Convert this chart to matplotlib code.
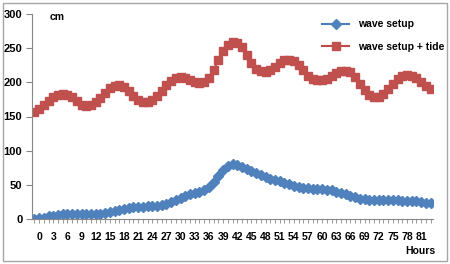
import matplotlib
matplotlib.use("Agg")
import matplotlib.pyplot as plt
from matplotlib.patches import Rectangle

hours = list(range(-1, 84))
label_hours = list(range(0, 82, 3))

wave_setup = [0, 1, 2, 4, 5, 6, 7, 8, 8, 8, 8, 8, 8, 8, 8, 9, 10, 12, 13, 15,
              16, 17, 18, 18, 19, 19, 19, 20, 22, 25, 28, 31, 34, 36, 38, 40, 42, 47, 54, 63,
              71, 77, 80, 79, 76, 73, 70, 67, 64, 62, 59, 57, 55, 53, 51, 49, 47, 46, 45, 44,
              44, 44, 43, 42, 40, 38, 36, 34, 32, 30, 29, 28, 28, 28, 28, 28, 28, 28, 27, 27,
              26, 26, 25, 24, 23]

wave_setup_tide = [156, 161, 167, 173, 178, 182, 183, 182, 178, 172, 167, 166, 167, 171, 177, 184, 191, 195, 196, 193,
                   187, 180, 174, 171, 171, 174, 180, 188, 196, 202, 206, 208, 207, 204, 201, 199, 200, 206, 218, 232,
                   246, 255, 259, 258, 252, 240, 228, 220, 216, 215, 218, 223, 228, 232, 233, 231, 226, 218, 210, 205,
                   203, 203, 205, 209, 213, 216, 217, 215, 208, 198, 189, 182, 179, 179, 183, 190, 198, 205, 209, 211,
                   210, 206, 200, 194, 190]

plt.rcParams['font.family'] = ['Liberation Sans', 'DejaVu Sans']
plt.rcParams['font.weight'] = 'bold'

W, H = 450, 264
fig = plt.figure(figsize=(W / 100, H / 100), dpi=100)
fig.patch.set_facecolor('white')
fig.patches.append(Rectangle((3 / W, 3 / H), 444 / W, 258 / H, transform=fig.transFigure,
                             fill=False, edgecolor='#a6a6a6', linewidth=1.0))

ax = fig.add_axes([32 / W, 1 - 219 / H, 401 / W, 205 / H])
ax.plot(hours, wave_setup, color='#4a7ebb', marker='D', markersize=4.8,
        markerfacecolor='#4f81bd', markeredgecolor='#4f81bd', linewidth=1.5, label='wave setup')
ax.plot(hours, wave_setup_tide, color='#be4b48', marker='s', markersize=6.2,
        markerfacecolor='#c0504d', markeredgecolor='#c0504d', linewidth=1.5, label='wave setup + tide')

ax.set_xlim(-1.5, 83.5)
ax.set_ylim(0, 300)
ax.set_yticks([0, 50, 100, 150, 200, 250, 300])
ax.set_xticks(label_hours)
ax.set_xticklabels([str(h) for h in label_hours])
ax.set_xticks(hours, minor=True)

for s in ['top', 'right']:
    ax.spines[s].set_visible(False)
for s in ['left', 'bottom']:
    ax.spines[s].set_color('#888888')
    ax.spines[s].set_linewidth(0.8)

ax.tick_params(axis='y', direction='out', length=4, width=0.8, color='#888888',
               labelsize=8, pad=3)
ax.tick_params(axis='x', which='major', direction='out', length=3, width=0.6, color='#888888',
               labelsize=7.5, pad=6)
ax.tick_params(axis='x', which='minor', direction='out', length=3, width=0.6, color='#888888')
for lbl in ax.get_xticklabels() + ax.get_yticklabels():
    lbl.set_fontweight('bold')

fig.text(50 / W, 1 - 17 / H, 'cm', fontsize=7.5, fontweight='bold', ha='left', va='center')
fig.text(420 / W, 1 - 251 / H, 'Hours', fontsize=7.5, fontweight='bold', ha='center', va='center')

leg = ax.legend(loc='upper left', bbox_to_anchor=(318 / W, 1 - 15 / H), bbox_transform=fig.transFigure,
                frameon=False, fontsize=7.5, labelspacing=1.2, handlelength=2.6, handletextpad=0.8,
                borderaxespad=0)
for t in leg.get_texts():
    t.set_fontweight('bold')

fig.savefig('out.png', dpi=100)
